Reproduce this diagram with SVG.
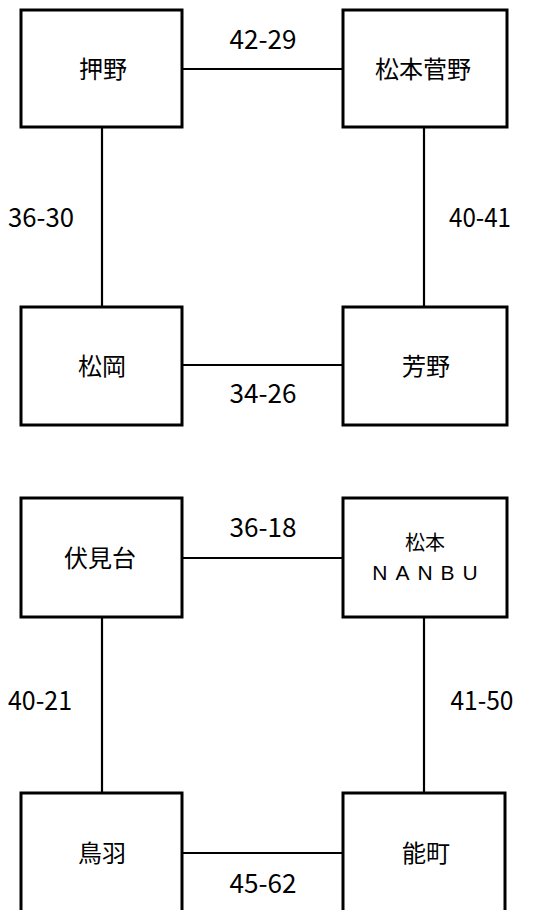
<svg xmlns="http://www.w3.org/2000/svg" width="551" height="910" viewBox="0 0 551 910">
<style>
.box{fill:#fff;stroke:#000;stroke-width:3}
.ln{stroke:#000;stroke-width:2.2;fill:none}
.t{font-family:"Noto Sans CJK JP","Liberation Sans",sans-serif;font-size:24px;fill:#000;text-anchor:middle}
.n{font-family:"Noto Sans CJK JP","Liberation Sans",sans-serif;font-size:26px;fill:#000;text-anchor:middle}
.s{font-family:"Noto Sans CJK JP","Liberation Sans",sans-serif;font-size:20px;fill:#000;text-anchor:middle}
.e{font-family:"Liberation Sans",Arial,sans-serif;font-size:21px;fill:#000;text-anchor:middle}
</style>
<rect width="551" height="910" fill="#fff"/>
<g id="connectors">
<line class="ln" x1="182" y1="69" x2="343" y2="69"/>
<line class="ln" x1="102" y1="127" x2="102" y2="307"/>
<line class="ln" x1="424" y1="127" x2="424" y2="307"/>
<line class="ln" x1="182" y1="365" x2="343" y2="365"/>
<line class="ln" x1="182" y1="558" x2="343" y2="558"/>
<line class="ln" x1="102" y1="617" x2="102" y2="793"/>
<line class="ln" x1="424" y1="617" x2="424" y2="793"/>
<line class="ln" x1="182" y1="853" x2="343" y2="853"/>
<text class="n" x="263" y="49" textLength="67" lengthAdjust="spacingAndGlyphs">42-29</text>
<text class="n" x="41" y="227" textLength="66" lengthAdjust="spacingAndGlyphs">36-30</text>
<text class="n" x="480" y="227" textLength="62" lengthAdjust="spacingAndGlyphs">40-41</text>
<text class="n" x="263" y="403" textLength="67" lengthAdjust="spacingAndGlyphs">34-26</text>
<text class="n" x="263" y="537" textLength="67" lengthAdjust="spacingAndGlyphs">36-18</text>
<text class="n" x="40" y="710" textLength="64" lengthAdjust="spacingAndGlyphs">40-21</text>
<text class="n" x="482" y="710" textLength="63" lengthAdjust="spacingAndGlyphs">41-50</text>
<text class="n" x="263" y="893" textLength="67" lengthAdjust="spacingAndGlyphs">45-62</text>
</g>
<g id="n1"><rect class="box" x="21" y="10" width="161" height="117"/><text class="t" x="103" y="78">押野</text></g>
<g id="n2"><rect class="box" x="343" y="10" width="164" height="117"/><text class="t" x="423" y="78">松本菅野</text></g>
<g id="n3"><rect class="box" x="21" y="307" width="161" height="118"/><text class="t" x="102" y="375">松岡</text></g>
<g id="n4"><rect class="box" x="343" y="307" width="164" height="118"/><text class="t" x="426" y="375">芳野</text></g>
<g id="n5"><rect class="box" x="21" y="498" width="161" height="119"/><text class="t" x="100" y="567">伏見台</text></g>
<g id="n6"><rect class="box" x="343" y="498" width="164" height="119"/><text class="s" x="425" y="550">松本</text><text class="e" x="425" y="580" letter-spacing="8" dx="4">NANBU</text></g>
<g id="n7"><rect class="box" x="21" y="793" width="161" height="130"/><text class="t" x="102" y="862">鳥羽</text></g>
<g id="n8"><rect class="box" x="343" y="793" width="162" height="130"/><text class="t" x="426" y="862">能町</text></g>
</svg>
